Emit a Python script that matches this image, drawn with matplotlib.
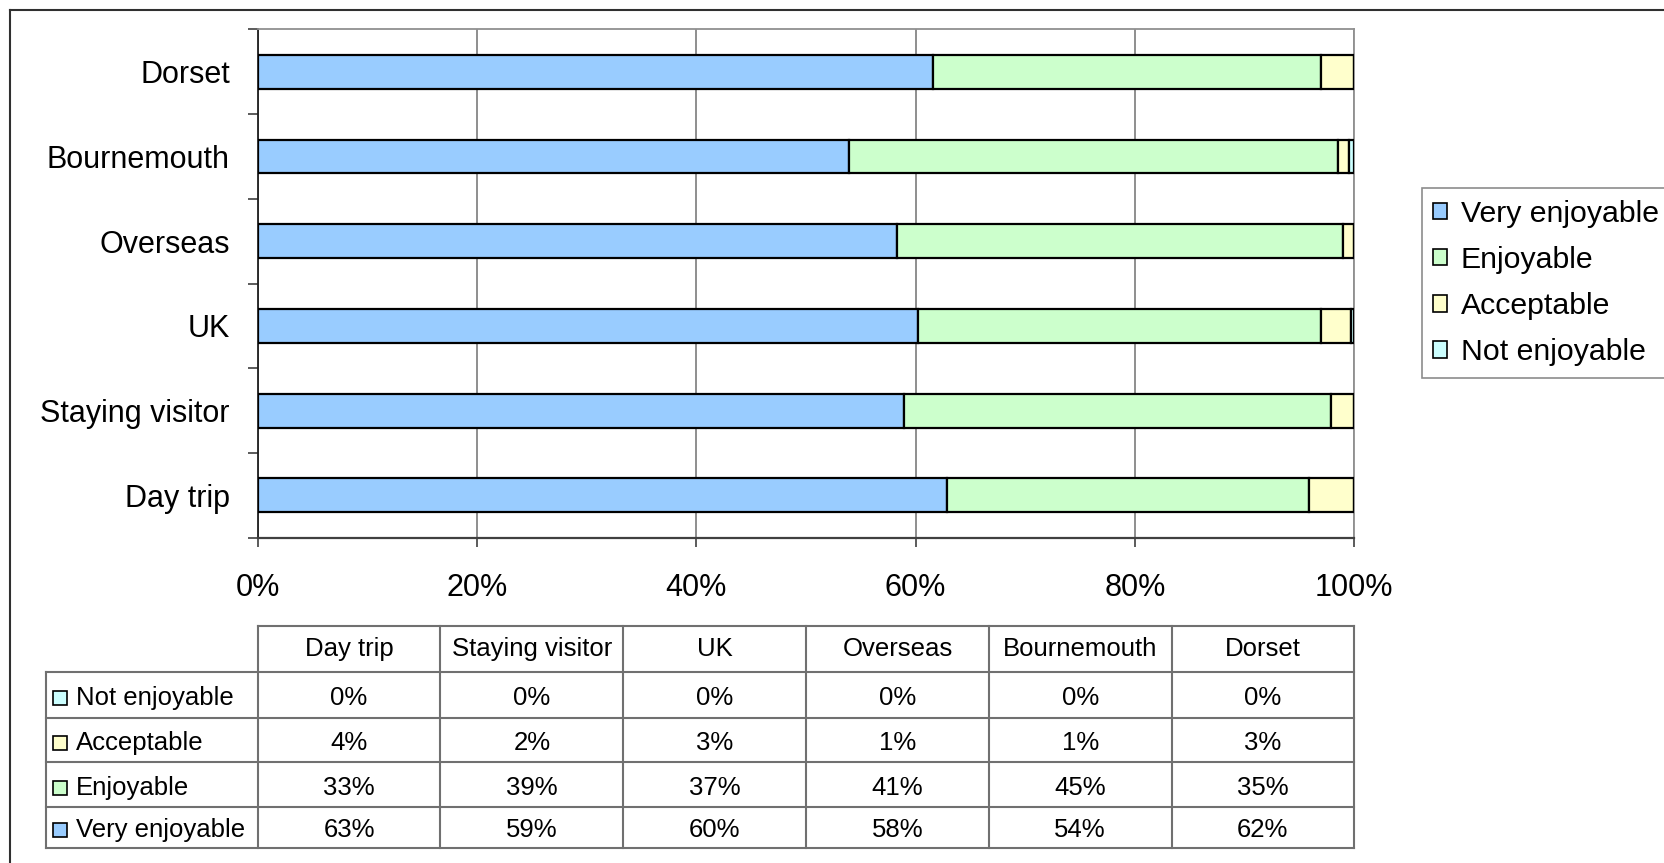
import matplotlib
matplotlib.use("Agg")
import matplotlib.pyplot as plt
from matplotlib.patches import Patch, Rectangle
import numpy as np

plt.rcParams["font.family"] = ["Liberation Sans", "DejaVu Sans"]

# data (percent), categories bottom -> top as drawn
categories = ["Day trip", "Staying visitor", "UK", "Overseas", "Bournemouth", "Dorset"]
very_enjoyable = [62.9, 58.9, 60.2, 58.3, 53.9, 61.6]
enjoyable = [33.0, 39.0, 36.8, 40.7, 44.6, 35.4]
acceptable = [4.1, 2.1, 2.7, 1.0, 1.05, 3.0]
not_enjoyable = [0.0, 0.0, 0.3, 0.0, 0.45, 0.0]
xticks = [0, 20, 40, 60, 80, 100]

series = [
    ("Very enjoyable", very_enjoyable, "#99CCFF"),
    ("Enjoyable", enjoyable, "#CCFFCC"),
    ("Acceptable", acceptable, "#FFFFCC"),
    ("Not enjoyable", not_enjoyable, "#CCFFFF"),
]

W, H = 1664, 863
fig = plt.figure(figsize=(W / 100, H / 100), dpi=100)

# plot area in pixels
px_l, px_r, px_t, px_b = 257.7, 1354.3, 29.5, 537.7
ax = fig.add_axes([px_l / W, 1 - px_b / H, (px_r - px_l) / W, (px_b - px_t) / H])

y = np.arange(len(categories))
left = np.zeros(len(categories))
for name, vals, col in series:
    vals = np.array(vals)
    ax.barh(y, vals, left=left, height=0.4, color=col, edgecolor="black",
            linewidth=1.6, zorder=3)
    left += vals

ax.set_xlim(0, 100)
ax.set_ylim(-0.5, len(categories) - 0.5)
ax.set_xticks(xticks)
ax.set_xticklabels([f"{t}%" for t in xticks], fontsize=22)
ax.set_yticks(y)
ax.set_yticklabels(categories, fontsize=22)
ax.set_yticks(np.arange(-0.5, len(categories)), minor=True)
ax.tick_params(axis="y", which="major", length=0, pad=20)
ax.tick_params(axis="y", which="minor", length=7.2, width=1.2, color="#404040", direction="out")
ax.tick_params(axis="x", which="major", length=6.5, width=1.2, color="#404040", direction="out", pad=19)
ax.grid(axis="x", color="#707070", linewidth=1.1, zorder=0)
ax.set_axisbelow(True)
ax.spines["left"].set_color("#202020")
ax.spines["left"].set_linewidth(1.3)
ax.spines["bottom"].set_color("#404040")
ax.spines["bottom"].set_linewidth(1.6)
for s in ("top", "right"):
    ax.spines[s].set_color("#909090")
    ax.spines[s].set_linewidth(1.3)

# legend (its right side runs off the canvas, as in the original)
handles = [Patch(facecolor=c, edgecolor="black", linewidth=1.2) for _, _, c in series]
leg = fig.legend(handles, [n for n, _, _ in series], loc="upper left",
                 bbox_to_anchor=(1421.7 / W, 1 - 188.3 / H), fontsize=21.8,
                 frameon=True, fancybox=False, edgecolor="#707070",
                 handlelength=0.46, handleheight=0.46, handletextpad=0.45,
                 labelspacing=0.6, borderpad=0.38, borderaxespad=0)
leg.get_frame().set_linewidth(1.2)

# overlay in pixel coords for frame and data table
ov = fig.add_axes([0, 0, 1, 1])
ov.set_xlim(0, W)
ov.set_ylim(H, 0)
ov.axis("off")

# outer chart frame
ov.plot([9.5, 9.5], [10, H], color="#303030", linewidth=1.5)
ov.plot([9.5, W], [10, 10], color="#303030", linewidth=1.5)

tsize = 18.5
col_edges = np.linspace(px_l, px_r, len(categories) + 1)
row_edges = [625.7, 671.5, 718.0, 762.3, 806.7, 847.7]
tab_l = 45.7
lc = "#707070"
# header
ov.plot([px_l, px_r], [row_edges[0], row_edges[0]], color=lc, lw=1.5)
for i, cat in enumerate(categories):
    xc = (col_edges[i] + col_edges[i + 1]) / 2
    base = row_edges[0] + 0.66 * (row_edges[1] - row_edges[0])
    ov.text(xc, base, cat, ha="center", va="baseline", fontsize=tsize)
for r in row_edges[1:]:
    ov.plot([tab_l, px_r], [r, r], color=lc, lw=1.5)
ov.plot([tab_l, tab_l], [row_edges[1], row_edges[-1]], color=lc, lw=1.5)
for xe in col_edges:
    ov.plot([xe, xe], [row_edges[0], row_edges[-1]], color=lc, lw=1.5)

for k, (name, vals, col) in enumerate(series[::-1]):
    top, bot = row_edges[k + 1], row_edges[k + 2]
    base = top + 0.73 * (bot - top)
    ov.add_patch(Rectangle((52.7, base - 14), 14, 14, facecolor=col, edgecolor="black", lw=1.2))
    ov.text(76, base, name, ha="left", va="baseline", fontsize=tsize)
    for i, v in enumerate(vals):
        xc = (col_edges[i] + col_edges[i + 1]) / 2
        ov.text(xc, base, f"{v:.0f}%", ha="center", va="baseline", fontsize=tsize)

fig.savefig("out.png", dpi=100)
